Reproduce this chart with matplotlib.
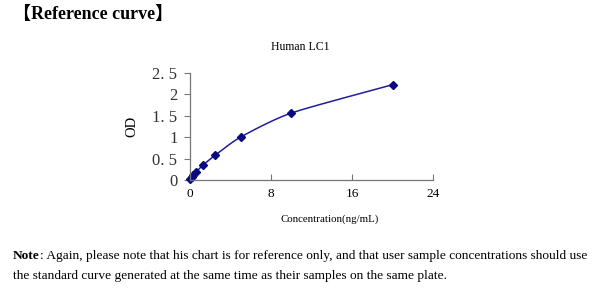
import numpy as np
import matplotlib
matplotlib.use("Agg")
import matplotlib.pyplot as plt

conc = [0, 0.156, 0.312, 0.625, 1.25, 2.5, 5, 10, 20]
od = [0.03, 0.07, 0.11, 0.19, 0.34, 0.58, 1.0, 1.56, 2.22]
xticks = [0, 8, 16, 24]
yticks = [0, 0.5, 1, 1.5, 2, 2.5]
yticklabels = ["0", "0. 5", "1", "1. 5", "2", "2. 5"]

SERIF = ["Liberation Serif", "DejaVu Serif"]
plt.rcParams["font.family"] = SERIF

fig = plt.figure(figsize=(6, 2.9), dpi=100)
ax = fig.add_axes([190 / 600, 1 - 180 / 290, 243 / 600, (180 - 72.7) / 290])

# smooth rendering line (cardinal spline through the data points)
px = np.array(conc, float)
py = np.array(od, float)
sx, sy = [], []
P = np.column_stack([px, py])
Pe = np.vstack([2 * P[0] - P[1], P, 2 * P[-1] - P[-2]])
for i in range(1, len(Pe) - 2):
    p0, p1, p2, p3 = Pe[i - 1], Pe[i], Pe[i + 1], Pe[i + 2]
    t = np.linspace(0, 1, 20)[:, None]
    k = 0.35
    m1 = k * (p2 - p0)
    m2 = k * (p3 - p1)
    h00 = 2 * t ** 3 - 3 * t ** 2 + 1
    h10 = t ** 3 - 2 * t ** 2 + t
    h01 = -2 * t ** 3 + 3 * t ** 2
    h11 = t ** 3 - t ** 2
    seg = h00 * p1 + h10 * m1 + h01 * p2 + h11 * m2
    sx.extend(seg[:, 0]); sy.extend(seg[:, 1])
ax.plot(sx, sy, color="#1f1f9a", lw=1.1, clip_on=False)
ax.plot(conc, od, linestyle="none", marker="D", markersize=4.5, color="#0a0a80", clip_on=False)

ax.set_xlim(0, 24)
ax.set_ylim(0, 2.5)
ax.set_xticks(xticks)
ax.set_yticks(yticks)
ax.set_yticklabels(yticklabels)
for s in ["top", "right"]:
    ax.spines[s].set_visible(False)
for s in ["left", "bottom"]:
    ax.spines[s].set_color("#777777")
    ax.spines[s].set_linewidth(0.9)
ax.tick_params(axis="x", direction="in", length=4, color="#777777", labelsize=9.5, pad=6)
ax.tick_params(axis="y", direction="out", length=4, color="#777777", labelsize=12, pad=5)
for lab in ax.get_yticklabels():
    lab.set_color("#333333")

ax.set_ylabel("OD", fontsize=10.5, labelpad=10)
fig.text(0.5, 1 - 47 / 290, "Human LC1", ha="center", va="center", fontsize=8.5)
fig.text(330 / 600, 1 - 219 / 290, "Concentration(ng/mL)", ha="center", va="center", fontsize=7.8)

fig.text(13 / 600, 1 - 14 / 290, "\u3010Reference curve\u3011", ha="left", va="center",
         fontsize=13, fontweight="bold", family=["Liberation Serif", "Noto Sans CJK SC"])

t1 = fig.text(13 / 600, 1 - 256 / 290, "Note", ha="left", va="center", fontsize=9.6, fontweight="bold")
fig.canvas.draw()
bb = t1.get_window_extent()
fig.text(bb.x1 / 600, 1 - 256 / 290,
         ": Again, please note that his chart is for reference only, and that user sample concentrations should use",
         ha="left", va="center", fontsize=9.6)
fig.text(13 / 600, 1 - 276 / 290,
         "the standard curve generated at the same time as their samples on the same plate.",
         ha="left", va="center", fontsize=9.6)

fig.savefig("out.png", dpi=100)
